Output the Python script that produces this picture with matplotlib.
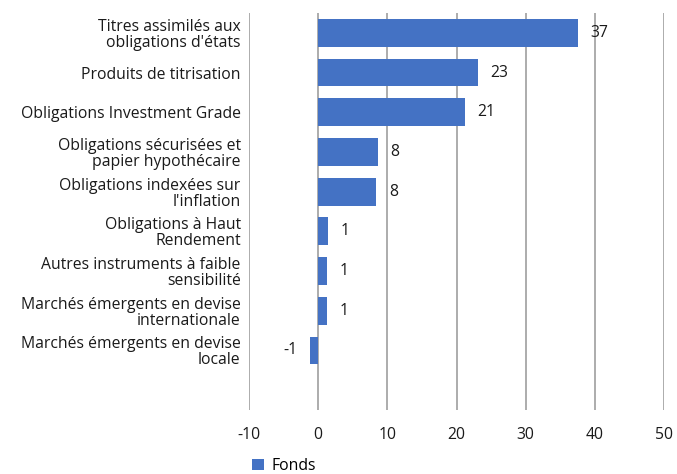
import matplotlib
matplotlib.use('Agg')
import matplotlib.pyplot as plt
import numpy as np

# --- data ---
categories = [
    "Titres assimilés aux\nobligations d'états",
    "Produits de titrisation",
    "Obligations Investment Grade",
    "Obligations sécurisées et\npapier hypothécaire",
    "Obligations indexées sur\nl'inflation",
    "Obligations à Haut\nRendement",
    "Autres instruments à faible\nsensibilité",
    "Marchés émergents en devise\ninternationale",
    "Marchés émergents en devise\nlocale",
]
fonds = [37.6, 23.1, 21.2, 8.6, 8.4, 1.4, 1.3, 1.3, -1.2]
value_labels = ["37", "23", "21", "8", "8", "1", "1", "1", "-1"]
x_ticks = [-10, 0, 10, 20, 30, 40, 50]

BAR_COLOR = '#4472C4'
GRID_COLOR = '#A6A6A6'
TEXT_COLOR = '#1a1a1a'
FS = 11.3

plt.rcParams['font.family'] = ['Open Sans', 'DejaVu Sans']

fig = plt.figure(figsize=(6.77, 4.74), dpi=100)
ax = fig.add_axes([249 / 677, 1 - 410 / 474, (664 - 249) / 677, (410 - 13) / 474])

# one empty slot at the bottom, like the source chart
y = np.arange(len(categories))
bars = ax.barh(y, fonds, height=0.7, color=BAR_COLOR, label='Fonds', zorder=3)

ax.set_ylim(len(categories) + 0.5, -0.5)
ax.set_xlim(x_ticks[0], x_ticks[-1])
ax.set_xticks(x_ticks)
ax.set_xticklabels([str(t) for t in x_ticks], fontsize=FS, color=TEXT_COLOR)
ax.set_yticks(y)
ax.set_yticklabels(categories, fontsize=FS, color=TEXT_COLOR, linespacing=1.0)

ax.tick_params(axis='y', length=0, pad=6)
ax.tick_params(axis='x', length=0, pad=12)
ax.grid(axis='x', color=GRID_COLOR, linewidth=1.3, zorder=0)
for s in ax.spines.values():
    s.set_visible(False)

ax.bar_label(bars, labels=value_labels, padding=9, fontsize=FS, color=TEXT_COLOR)

fig.legend(loc='lower left', bbox_to_anchor=(238 / 677, -0.03), frameon=False,
           fontsize=FS, handlelength=0.75, handleheight=0.75, handletextpad=0.5)

fig.savefig('out.png', dpi=100)
